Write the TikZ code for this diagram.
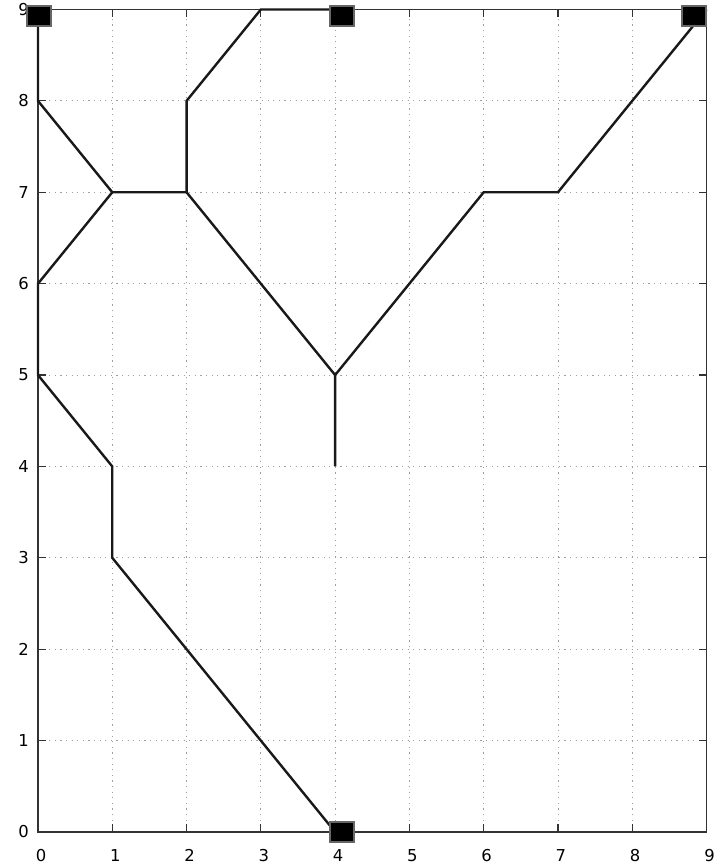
\documentclass[tikz,border=0pt]{standalone}
\usepackage{fontspec}
\setmainfont{DejaVu Sans}
\begin{document}
\begin{tikzpicture}[x=37.139pt,y=45.694pt,
  gridline/.style={gray!75,line width=0.4pt,dash pattern=on 0.6pt off 2.2pt},
  frameline/.style={black!80,line width=0.75pt},
  tickline/.style={black!80,line width=0.6pt},
  route/.style={black!90,line width=1.2pt},
  endbox/.style={draw=gray!80!black,fill=black,line width=1pt,minimum width=12pt,minimum height=10pt,inner sep=0pt},
  ticklabel/.style={font=\fontsize{8.2}{10}\selectfont,inner sep=0pt}]
\useasboundingbox (-19pt,-16.5pt) rectangle (340.5pt,416pt);
% grid
\foreach \i in {1,...,8}{
  \draw[gridline] (\i,0) -- (\i,9);
  \draw[gridline] (0,\i) -- (9,\i);
}
% frame and ticks
\draw[frameline] (0,0) rectangle (9,9);
\foreach \i in {1,...,8}{
  \draw[tickline] (\i,0) -- ++(0,4pt);
  \draw[tickline] (\i,9) -- ++(0,-4pt);
  \draw[tickline] (0,\i) -- ++(4pt,0);
  \draw[tickline] (9,\i) -- ++(-4pt,0);
}
% labels
\foreach \i in {0,...,9}{
  \node[ticklabel] (xl\i) at (\i+0.04,-0.257) {\i};
  \node[ticklabel] (yl\i) at (-0.195,\i) {\i};
}
% points
\foreach \x/\y in {0/9,0/8,1/7,2/7,2/8,3/9,4/9,0/6,0/5,1/4,1/3,4/0,4/5,4/4,6/7,7/7,9/9}{
  \coordinate (p\x\y) at (\x,\y);
}
% routes
\draw[route] (p09) -- (p08) -- (p17) -- (p27) -- (p28) -- (p39) -- (p49);
\draw[route] (p17) -- (p06) -- (p05) -- (p14) -- (p13) -- (p40);
\draw[route] (p27) -- (p45) -- (p44);
\draw[route] (p45) -- (p67) -- (p77) -- (p99);
% end boxes
\node[endbox] (b1) at (0.007,8.929) {};
\node[endbox] (b2) at (4.093,8.929) {};
\node[endbox] (b3) at (4.093,0) {};
\node[endbox] (b4) at (8.827,8.934) {};
\end{tikzpicture}
\end{document}
